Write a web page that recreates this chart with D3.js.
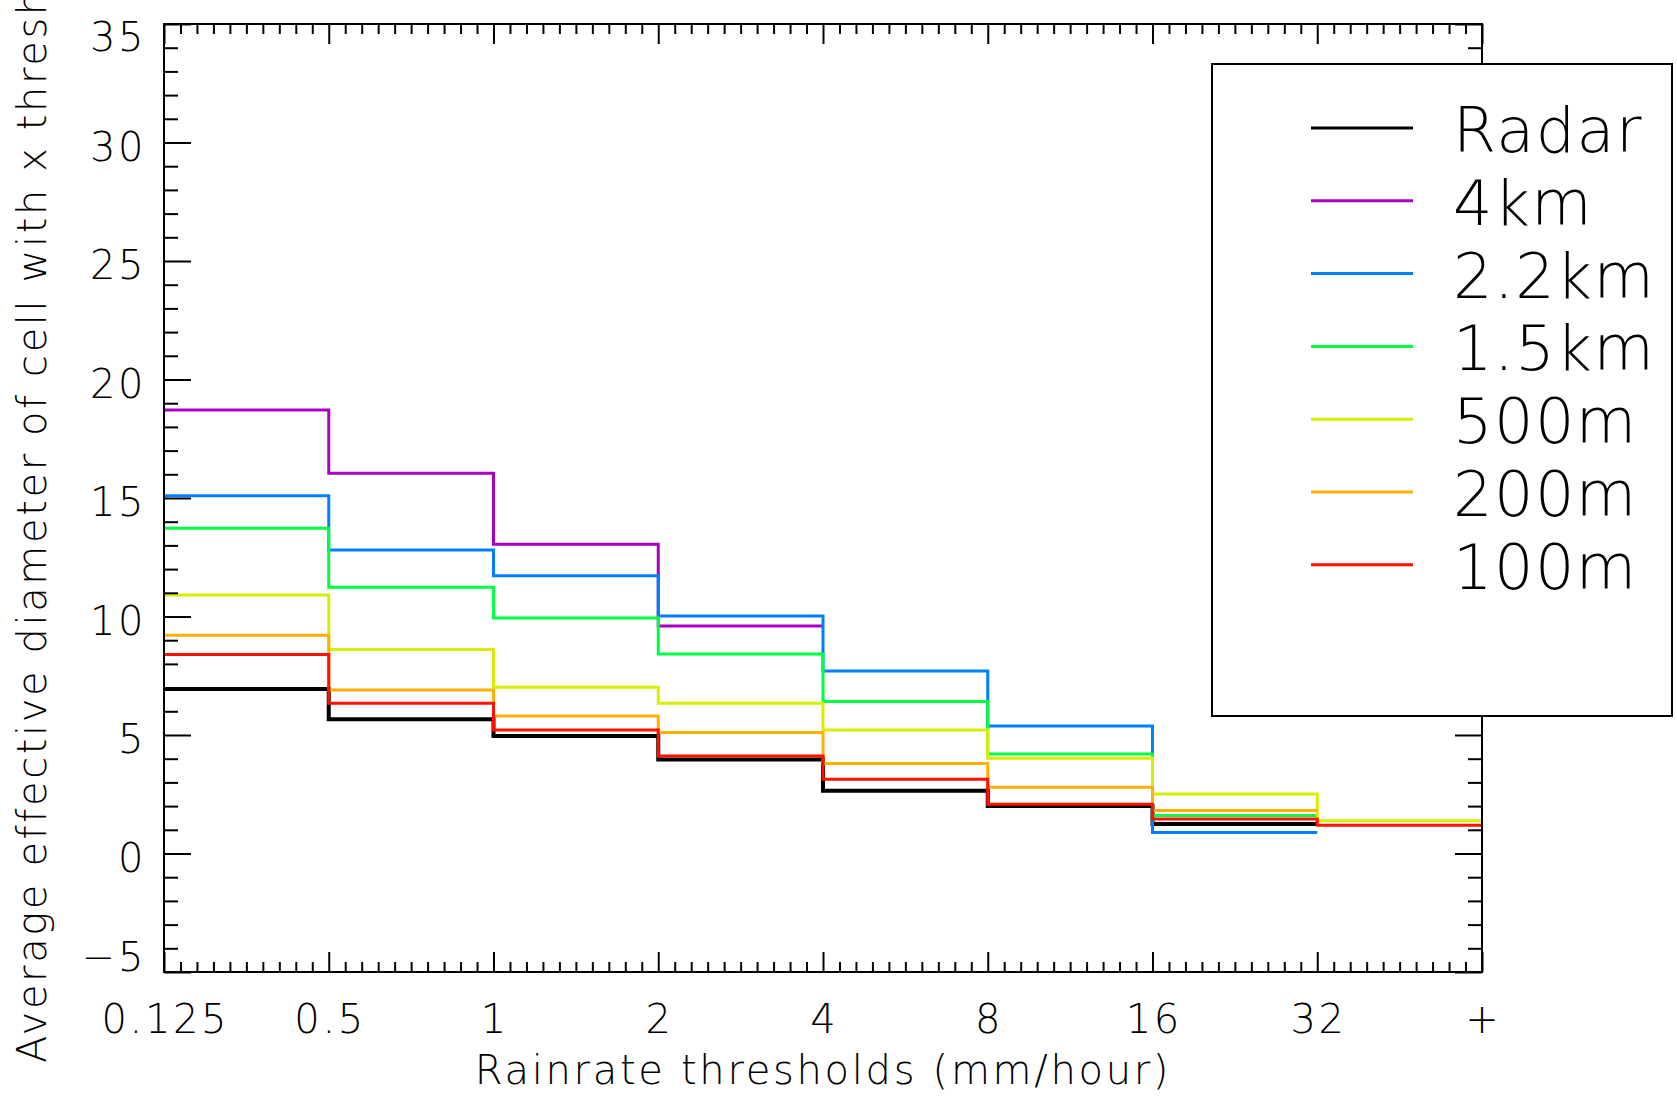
<!DOCTYPE html>
<html>
<head>
<meta charset="utf-8">
<script src="https://cdn.jsdelivr.net/npm/d3@7"></script>
<style>
  body { margin: 0; background: #fff; }
  text { font-family: "DejaVu Sans", sans-serif; font-weight: 200; fill: #000; }
</style>
</head>
<body>
<svg id="chart" width="1677" height="1098"></svg>
<script>
// rain rate bin edges (x axis), one value per bin for each run
const thresholds = ["0.125", "0.5", "1", "2", "4", "8", "16", "32", "+"];
const series_names = ["Radar", "4km", "2.2km", "1.5km", "500m", "200m", "100m"];
const series_colors = ["#000000", "#a800c0", "#0080ff", "#00ff40", "#d8ee00", "#ffb000", "#ff1000"];

const radar = [6.94, 5.66, 4.96, 3.97, 2.65, 2.00, 1.24, null];
const km4   = [18.71, 16.04, 13.05, 9.60, null, null, null, null];
const km2_2 = [15.10, 12.81, 11.72, 10.02, 7.70, 5.38, 0.89, null];
const km1_5 = [13.72, 11.23, 9.94, 8.42, 6.41, 4.20, 1.60, null];
const m500  = [10.91, 8.61, 7.01, 6.34, 5.21, 4.02, 2.51, 1.38];
const m200  = [9.21, 6.90, 5.80, 5.11, 3.80, 2.80, 1.81, null];
const m100  = [8.40, 6.34, 5.21, 4.11, 3.13, 2.08, 1.46, 1.19];

const y_ticks = [-5, 0, 5, 10, 15, 20, 25, 30, 35];
const y_title = "Average effective diameter of cell with x threshold (km)";
const x_title = "Rainrate thresholds (mm/hour)";

const all_series = [radar, km4, km2_2, km1_5, m500, m200, m100];

function render() {
    const svg = d3.select("#chart");
    const left = 164, right = 1482, top = 24, bottom = 972;

    const x = d3.scaleLinear().domain([0, thresholds.length - 1]).range([left, right]);
    const y = d3.scaleLinear().domain([-5, 35]).range([bottom, top]);

    // step lines
    const step = d3.line()
        .x(d => x(d[0]))
        .y(d => y(d[1]))
        .curve(d3.curveStepAfter);

    all_series.forEach((vals, k) => {
        const pts = [];
        vals.forEach((v, i) => { if (v !== null) pts.push([i, v]); });
        const last = pts[pts.length - 1];
        pts.push([last[0] + 1, last[1]]);
        svg.append("path")
            .datum(pts)
            .attr("d", step)
            .attr("fill", "none")
            .attr("stroke", series_colors[k])
            .attr("stroke-width", k === 0 ? 4 : 3);
    });

    // axes
    const minor_x = d3.range(0, 80).map(i => i / 10).filter(v => v % 1 !== 0);
    const minor_y = d3.range(-5, 36).filter(v => v % 5 !== 0);

    const axis_style = g => {
        g.selectAll(".domain").remove();
        g.selectAll("line").attr("stroke", "#000").attr("stroke-width", 2);
        g.selectAll("text").remove();
    };

    svg.append("g").attr("transform", `translate(0,${bottom})`)
        .call(d3.axisBottom(x).tickValues(d3.range(0, 9)).tickSize(-20)).call(axis_style);
    svg.append("g").attr("transform", `translate(0,${bottom})`)
        .call(d3.axisBottom(x).tickValues(minor_x).tickSize(-10)).call(axis_style);
    svg.append("g").attr("transform", `translate(0,${top})`)
        .call(d3.axisTop(x).tickValues(d3.range(0, 9)).tickSize(-20)).call(axis_style);
    svg.append("g").attr("transform", `translate(0,${top})`)
        .call(d3.axisTop(x).tickValues(minor_x).tickSize(-10)).call(axis_style);

    svg.append("g").attr("transform", `translate(${left},0)`)
        .call(d3.axisLeft(y).tickValues(y_ticks).tickSize(-27)).call(axis_style);
    svg.append("g").attr("transform", `translate(${left},0)`)
        .call(d3.axisLeft(y).tickValues(minor_y).tickSize(-14)).call(axis_style);
    svg.append("g").attr("transform", `translate(${right},0)`)
        .call(d3.axisRight(y).tickValues(y_ticks).tickSize(-27)).call(axis_style);
    svg.append("g").attr("transform", `translate(${right},0)`)
        .call(d3.axisRight(y).tickValues(minor_y).tickSize(-14)).call(axis_style);

    svg.append("rect")
        .attr("x", left).attr("y", top)
        .attr("width", right - left).attr("height", bottom - top)
        .attr("fill", "none").attr("stroke", "#000").attr("stroke-width", 2);

    // tick labels
    svg.append("g").selectAll("text")
        .data(y_ticks)
        .join("text")
        .attr("x", 146)
        .attr("y", d => Math.min(Math.max(y(d) + 4, 37), 957))
        .attr("dy", "0.36em")
        .attr("text-anchor", "end")
        .attr("font-size", 40)
        .attr("letter-spacing", 2.6)
        .text(d => d < 0 ? "\u2212" + Math.abs(d) : d);

    svg.append("g").selectAll("text")
        .data(thresholds)
        .join("text")
        .attr("x", (d, i) => x(i) + 1.3)
        .attr("y", 1033)
        .attr("text-anchor", "middle")
        .attr("font-size", 40)
        .attr("letter-spacing", 2.6)
        .text(d => d);

    svg.append("text")
        .attr("x", (left + right) / 2)
        .attr("y", 1084)
        .attr("text-anchor", "middle")
        .attr("font-size", 40)
        .attr("letter-spacing", 2.7)
        .text(x_title);

    // the title runs past the top edge, as in the original
    svg.append("text")
        .attr("transform", "translate(46,1063) rotate(-90)")
        .attr("text-anchor", "start")
        .attr("font-size", 40)
        .attr("letter-spacing", 2.6)
        .text(y_title);

    // legend
    const lg = svg.append("g");
    lg.append("rect")
        .attr("x", 1212).attr("y", 64)
        .attr("width", 460).attr("height", 652)
        .attr("fill", "#fff").attr("stroke", "#000").attr("stroke-width", 2);

    const rows = lg.selectAll("g.row")
        .data(series_names)
        .join("g")
        .attr("class", "row")
        .attr("transform", (d, i) => `translate(0,${128 + i * 72.8})`);
    rows.append("line")
        .attr("x1", 1311).attr("x2", 1413)
        .attr("stroke", (d, i) => series_colors[i])
        .attr("stroke-width", 3);
    rows.append("text")
        .attr("x", 1453).attr("y", 24)
        .attr("font-size", 62)
        .attr("letter-spacing", 1.5)
        .text(d => d);
}

render();
</script>
</body>
</html>
